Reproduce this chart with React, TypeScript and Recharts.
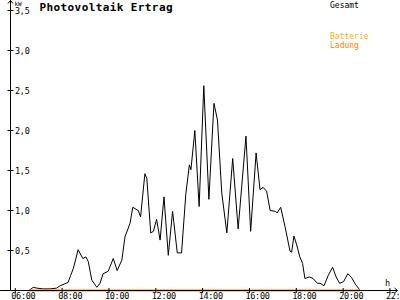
import React from 'react';
import { LineChart, Line, XAxis, YAxis, ReferenceLine } from 'recharts';

// Gesamt (kW) sampled over the day
const gesamtTimes = [
  '06:35', '06:46', '06:55', '07:11', '07:29', '07:46', '07:55', '08:15', '08:22', '08:29',
  '08:41', '08:53', '09:01', '09:07', '09:16', '09:29', '09:37', '09:45', '09:58', '10:11',
  '10:21', '10:33', '10:41', '10:54', '11:01', '11:15', '11:21', '11:32', '11:37', '11:47',
  '11:54', '12:02', '12:11', '12:21', '12:32', '12:43', '12:55', '13:06', '13:17', '13:26',
  '13:30', '13:40', '13:51', '14:03', '14:16', '14:29', '14:38', '14:49', '15:02', '15:17',
  '15:31', '15:51', '16:03', '16:17', '16:27', '16:35', '16:44', '16:53', '17:06', '17:11',
  '17:20', '17:31', '17:44', '17:48', '17:54', '18:01', '18:09', '18:16', '18:22', '18:33',
  '18:43', '18:54', '19:01', '19:11', '19:22', '19:33', '19:42', '19:51', '20:01', '20:12',
  '20:22', '20:31', '20:39', '20:43',
];
const gesamtKw = [
  0, 0.04, 0.03, 0.02, 0.02, 0.03, 0.06, 0.1, 0.19, 0.28,
  0.51, 0.4, 0.42, 0.36, 0.13, 0.04, 0.09, 0.21, 0.24, 0.4,
  0.25, 0.38, 0.67, 0.84, 1.04, 1.0, 0.92, 1.46, 1.4, 0.72,
  0.74, 0.89, 0.63, 1.17, 0.44, 0.99, 0.47, 0.47, 1.21, 1.57,
  1.51, 2.0, 1.05, 2.56, 1.14, 2.34, 2.13, 1.22, 0.72, 1.65,
  0.77, 1.93, 0.74, 1.72, 1.26, 1.29, 1.24, 1.0, 0.99, 0.97,
  1.04, 0.8, 0.49, 0.48, 0.68, 0.57, 0.42, 0.34, 0.15, 0.17,
  0.15, 0.09, 0.09, 0.06, 0.19, 0.29, 0.17, 0.09, 0.11, 0.21,
  0.16, 0.08, 0.03, 0,
];

// Batterie Ladung (kW)
const ladungTimes = ['06:35', '20:43'];
const ladungKw = [0, 0];

const xTicks = [6, 8, 10, 12, 14, 16, 18, 20, 22];
const yTicks = [0.5, 1, 1.5, 2, 2.5, 3, 3.5];

const FONT = '"DejaVu Sans Mono", monospace';

const toHours = (s: string) => {
  const [h, m] = s.split(':').map(Number);
  return h + m / 60;
};

const gesamtData = gesamtTimes.map((t, i) => ({ t: toHours(t), kw: gesamtKw[i] }));
const ladungData = ladungTimes.map((t, i) => ({ t: toHours(t), kw: ladungKw[i] }));

const XTick = ({ x, y, payload }: any) => {
  const hh = String(payload.value).padStart(2, '0');
  return (
    <g>
      <line x1={x} x2={x} y1={y - 2.5} y2={y + 2.5} stroke="#000" />
      <text x={x - 4} y={y + 8.5} fontSize={8.5} letterSpacing={-0.3} fontFamily={FONT} fill="#000">
        {hh}:00
      </text>
    </g>
  );
};

const YTick = ({ x, y, payload }: any) => (
  <g>
    <line x1={x - 3} x2={x + 3} y1={y} y2={y} stroke="#000" />
    <text x={x + 4.5} y={y + 3} fontSize={8.5} letterSpacing={-0.3} fontFamily={FONT} fill="#000">
      {payload.value.toFixed(1).replace('.', ',')}
    </text>
  </g>
);

// unit label + arrow head at the end of the x axis
const XUnit = (p: any) => {
  const tx = p.viewBox.x + p.viewBox.width + 0.5;
  const ty = p.viewBox.y;
  return (
    <g>
      <path d={`M${tx - 3},${ty - 2.5} L${tx},${ty} L${tx - 3},${ty + 2.5}`} fill="none" stroke="#000" />
      <text x={tx - 12.5} y={ty - 5} fontSize={8.5} fontFamily={FONT} fill="#000">
        h
      </text>
    </g>
  );
};

// unit label + arrow head at the top of the y axis
const YUnit = (p: any) => {
  const ax = p.viewBox.x + p.viewBox.width;
  const ay = p.viewBox.y - 0.5;
  return (
    <g>
      <path d={`M${ax - 2.5},${ay + 3.5} L${ax},${ay + 0.5} L${ax + 2.5},${ay + 3.5}`} fill="none" stroke="#000" />
      <text x={ax + 4} y={5.5} fontSize={6} fontFamily={FONT} fill="#000">
        kW
      </text>
    </g>
  );
};

const App = () => {
  return (
    <div style={{ position: 'relative', width: 400, height: 300, background: '#fff' }}>
      <style>{'body{margin:0}'}</style>
      <LineChart width={400} height={300} data={gesamtData} margin={{ top: 0.5, right: 3, bottom: 0, left: 0 }}>
        <XAxis
          dataKey="t"
          type="number"
          domain={[5.795, 22.3]}
          ticks={xTicks}
          interval={0}
          height={9.5}
          tickLine={false}
          tickSize={0}
          tickMargin={0}
          tick={<XTick />}
          axisLine={{ stroke: '#000' }}
          label={XUnit}
        />
        <YAxis
          type="number"
          domain={[0, 3.625]}
          ticks={yTicks}
          interval={0}
          width={10.5}
          tickLine={false}
          tickSize={0}
          tickMargin={0}
          tick={<YTick />}
          axisLine={{ stroke: '#000' }}
          label={YUnit}
        />
        <ReferenceLine
          segment={[{ x: 5.35, y: 0 }, { x: 5.795, y: 0 }]}
          stroke="#000"
          ifOverflow="visible"
        />
        <Line
          dataKey="kw"
          name="Gesamt"
          stroke="#000"
          strokeWidth={1}
          dot={false}
          type="linear"
          isAnimationActive={false}
        />
        <Line
          data={ladungData}
          dataKey="kw"
          name="Batterie Ladung"
          stroke="#ff8000"
          strokeWidth={2}
          dot={false}
          type="linear"
          isAnimationActive={false}
        />
      </LineChart>
      <svg width={400} height={300} style={{ position: 'absolute', left: 0, top: 0, pointerEvents: 'none' }}>
        <text x={39.5} y={10.5} fontSize={11} fontWeight="bold" letterSpacing={0.4} fontFamily={FONT} fill="#000">
          Photovoltaik Ertrag
        </text>
        <g fontSize={8} fontFamily={FONT}>
          <text x={330} y={7.5} fill="#000">Gesamt</text>
          <text x={330} y={38.8} fill="#ffb000">Batterie</text>
          <text x={330} y={47.5} fill="#ff8000">Ladung</text>
        </g>
      </svg>
    </div>
  );
};

export default App;
